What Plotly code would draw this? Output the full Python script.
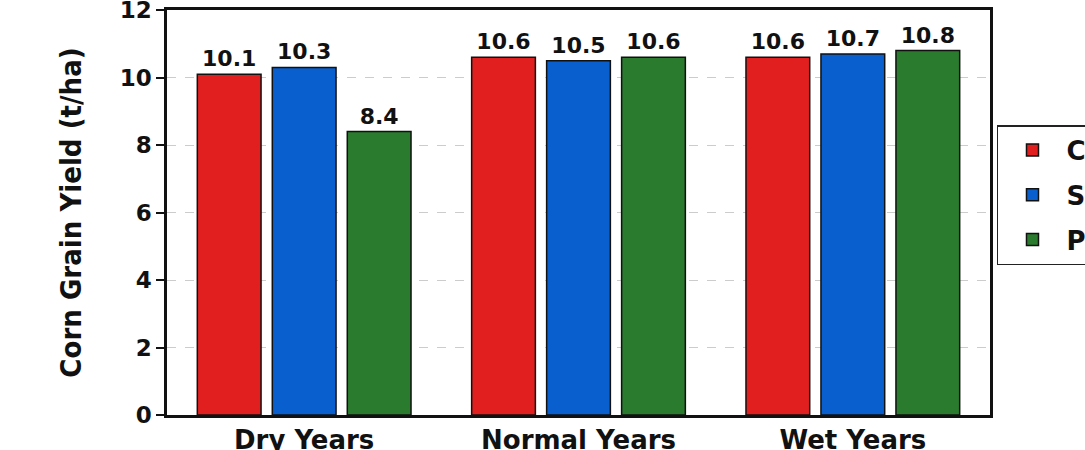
import plotly.graph_objects as go

categories = ["Dry Years", "Normal Years", "Wet Years"]
series_names = ["CT", "ST", "PC"]
ct_values = [10.1, 10.6, 10.6]
st_values = [10.3, 10.5, 10.7]
pc_values = [8.4, 10.6, 10.8]
y_ticks = [0, 2, 4, 6, 8, 10, 12]

colors = ["#E11F1F", "#0A5FCF", "#2A7B2E"]
series_values = [ct_values, st_values, pc_values]

fig = go.Figure()
for name, vals, col in zip(series_names, series_values, colors):
    fig.add_trace(go.Bar(
        x=categories, y=vals, name=name, legendgroup=name,
        marker=dict(color=col, line=dict(color="#111111", width=1.5)),
        text=[f"{v:.1f}" for v in vals], textposition="outside",
        textfont=dict(family="DejaVu Sans", size=22, color="#111111", weight="bold"),
        cliponaxis=False,
    ))

fig.update_layout(
    width=1085, height=450,
    margin=dict(l=167, r=95, t=10, b=35, autoexpand=False),
    paper_bgcolor="white", plot_bgcolor="white",
    barmode="group", bargap=0.18, bargroupgap=0.15,
    showlegend=True,
    legend=dict(x=1.0085, y=0.716, xanchor="left", yanchor="top",
                bordercolor="#222222", borderwidth=1.5, bgcolor="white",
                font=dict(family="DejaVu Sans", size=26, color="#111111", weight="bold"),
                tracegroupgap=8, itemwidth=58),
    yaxis=dict(range=[0, 12], tickvals=y_ticks, showgrid=True,
               gridcolor="#CCCCCC", griddash="dash", gridwidth=1,
               showline=True, linecolor="#111111", linewidth=2.5, mirror=True,
               ticks="outside", ticklen=8, tickcolor="#111111", tickwidth=1.5,
               ticklabeloverflow="allow",
               tickfont=dict(family="DejaVu Sans", size=23, color="#111111", weight="bold"),
               title=dict(text="Corn Grain Yield (t/ha)",
                          font=dict(family="DejaVu Sans Condensed", size=29, color="#111111", weight="bold"),
                          standoff=30),
               zeroline=False),
    xaxis=dict(showline=True, linecolor="#111111", linewidth=2.5, mirror=True,
               ticks="", tickfont=dict(family="DejaVu Sans", size=26, color="#111111", weight="bold")),
)

fig.write_html("out.html", config={"displayModeBar": False},
               post_script="document.body.style.margin='0';")
